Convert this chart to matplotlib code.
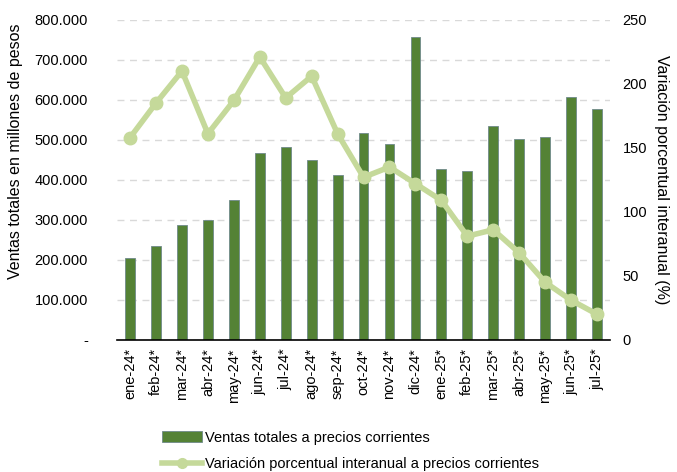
import matplotlib
matplotlib.use("Agg")
import matplotlib.pyplot as plt
from matplotlib.lines import Line2D
from matplotlib.patches import Patch

months = ["ene-24*", "feb-24*", "mar-24*", "abr-24*", "may-24*", "jun-24*", "jul-24*",
          "ago-24*", "sep-24*", "oct-24*", "nov-24*", "dic-24*", "ene-25*", "feb-25*",
          "mar-25*", "abr-25*", "may-25*", "jun-25*", "jul-25*"]
ventas = [204000, 234000, 288000, 300000, 349000, 466000, 483000, 450000, 412000,
          516000, 490000, 757000, 426000, 422000, 535000, 501000, 506000, 607000, 578000]
variacion = [158, 185, 210, 161, 187, 221, 189, 206, 161, 127, 135, 122, 109, 81,
             86, 68, 45, 31, 20]
left_ticks = [0, 100000, 200000, 300000, 400000, 500000, 600000, 700000, 800000]
left_labels = ["-", "100.000", "200.000", "300.000", "400.000", "500.000", "600.000",
               "700.000", "800.000"]
right_ticks = [0, 50, 100, 150, 200, 250]

plt.rcParams['font.family'] = ['Liberation Sans', 'DejaVu Sans']

fig = plt.figure(figsize=(6.77, 4.72), dpi=100)
ax = fig.add_axes([0.173, 0.28, 0.728, 0.678])
x = list(range(len(months)))

ax.bar(x, ventas, width=0.38, color="#548235", edgecolor="#6f8a8a", linewidth=0.6, zorder=2)
ax.set_ylim(0, 800000)
ax.set_xlim(-0.5, len(months) - 0.5)
ax.set_yticks(left_ticks)
ax.set_yticklabels(left_labels, fontsize=10.5)
ax.yaxis.grid(True, linestyle=(0, (5, 4)), color="#d9d9d9", linewidth=1.0, zorder=0)
ax.set_axisbelow(True)
for s in ["top", "right", "left"]:
    ax.spines[s].set_visible(False)
ax.spines["bottom"].set_color("black")
ax.spines["bottom"].set_linewidth(1.2)
ax.tick_params(axis="y", length=0, pad=21)
ax.tick_params(axis="x", length=0, pad=6)
ax.set_xticks(x)
ax.set_xticklabels(months, rotation=90, fontsize=10.5)
ax.set_ylabel("Ventas totales en millones de pesos", fontsize=11.5)
ax.yaxis.set_label_coords(-0.19, 0.59)

ax2 = ax.twinx()
ax2.plot(x, variacion, color="#c5d99a", linewidth=4, marker="o", markersize=9, zorder=3)
ax2.set_ylim(0, 250)
ax2.set_yticks(right_ticks)
ax2.tick_params(axis="y", length=0, labelsize=10.5, pad=9)
for s in ["top", "right", "left", "bottom"]:
    ax2.spines[s].set_visible(False)
ax2.set_ylabel("Variación porcentual interanual (%)", fontsize=11.5, rotation=270, va="center")
ax2.yaxis.set_label_coords(1.105, 0.5)

handles = [Patch(facecolor="#548235", edgecolor="#6f8a8a", linewidth=0.6),
           Line2D([0], [0], color="#c5d99a", linewidth=4, marker="o", markersize=7)]
fig.legend(handles, ["Ventas totales a precios corrientes",
                     "Variación porcentual interanual a precios corrientes"],
           loc="upper left", bbox_to_anchor=(0.23, 0.1), frameon=False, fontsize=10.5,
           handlelength=2.8, handletextpad=0.2, labelspacing=0.85, borderaxespad=0)

fig.savefig("out.png", dpi=100)
